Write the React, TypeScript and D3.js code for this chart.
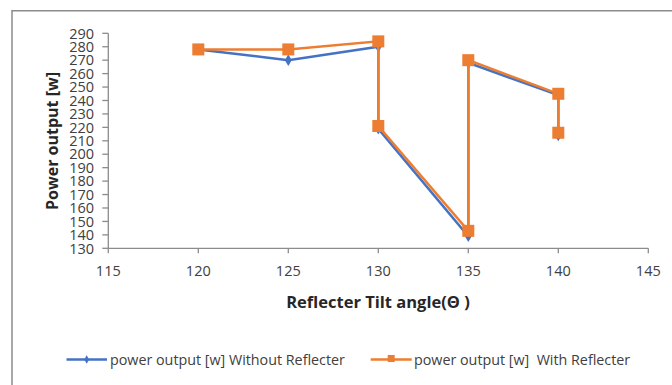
import React, { useEffect, useRef } from "react";
import * as d3 from "d3";

const angles = [120, 125, 130, 130, 135, 135, 140, 140];
const withoutReflecter = [278, 270, 280, 219, 139, 268, 244, 214];
const withReflecter = [278, 278, 284, 221, 143, 270, 245, 216];
const xTicks = [115, 120, 125, 130, 135, 140, 145];
const yTicks = d3.range(130, 291, 10);
const seriesNames = ["power output [w] Without Reflecter", "power output [w]  With Reflecter"];

const W = 672, H = 385;
const BLUE = "#4472C4", ORANGE = "#ED7D31", AXIS = "#8c8c8c", TEXT = "#404040";
const FONT = "'Open Sans', 'Noto Sans', sans-serif";

export default function App() {
  const ref = useRef<SVGSVGElement>(null);
  useEffect(() => {
    const svg = d3.select(ref.current);
    svg.selectAll("*").remove();
    const x = d3.scaleLinear().domain([115, 145]).range([108.3, 648.3]);
    const y = d3.scaleLinear().domain([130, 290]).range([248.3, 33.3]);

    svg.append("rect").attr("width", W).attr("height", H).attr("fill", "#fff");
    // chart border (top & left visible)
    svg.append("path").attr("d", `M12,${H + 5}V10.8H${W + 5}`).attr("fill", "none")
      .attr("stroke", AXIS).attr("stroke-width", 1.5);

    // y axis
    const ya = svg.append("g");
    ya.append("line").attr("x1", x(115)).attr("x2", x(115)).attr("y1", y(290)).attr("y2", y(130))
      .attr("stroke", AXIS).attr("stroke-width", 1.3);
    yTicks.forEach((t) => {
      ya.append("line").attr("x1", x(115) - 6).attr("x2", x(115)).attr("y1", y(t)).attr("y2", y(t))
        .attr("stroke", AXIS).attr("stroke-width", 1.3);
      ya.append("text").attr("x", 94).attr("y", y(t)).attr("dy", "0.36em").attr("text-anchor", "end")
        .attr("font-family", FONT).attr("font-size", 14.5).attr("fill", TEXT).text(String(t));
    });
    // x axis
    const xa = svg.append("g");
    xa.append("line").attr("x1", x(115)).attr("x2", x(145)).attr("y1", y(130)).attr("y2", y(130))
      .attr("stroke", AXIS).attr("stroke-width", 1.3);
    xTicks.forEach((t) => {
      xa.append("line").attr("x1", x(t)).attr("x2", x(t)).attr("y1", y(130)).attr("y2", y(130) + 5)
        .attr("stroke", AXIS).attr("stroke-width", 1.3);
      xa.append("text").attr("x", x(t)).attr("y", 275.7).attr("text-anchor", "middle")
        .attr("font-family", FONT).attr("font-size", 14.5).attr("fill", TEXT).text(String(t));
    });

    // axis titles
    svg.append("text").attr("x", 378).attr("y", 308).attr("text-anchor", "middle")
      .attr("font-family", FONT).attr("font-weight", "bold").attr("font-size", 16.5).attr("fill", "#262626")
      .text("Reflecter Tilt angle(Θ )");
    svg.append("text").attr("transform", "translate(58,141) rotate(-90)").attr("text-anchor", "middle")
      .attr("font-family", FONT).attr("font-weight", "bold").attr("font-size", 16).attr("fill", "#262626")
      .text("Power output [w]");

    const line = d3.line<[number, number]>().x((d) => x(d[0])).y((d) => y(d[1]));
    const blueData: [number, number][] = angles.map((a, i) => [a, withoutReflecter[i]]);
    const orangeData: [number, number][] = angles.map((a, i) => [a, withReflecter[i]]);

    const diamond = d3.symbol().type(d3.symbolDiamond).size(40);
    svg.append("path").attr("d", line(blueData)).attr("fill", "none").attr("stroke", BLUE).attr("stroke-width", 2.5);
    svg.selectAll(".bm").data(blueData).enter().append("path")
      .attr("d", diamond).attr("transform", (d) => `translate(${x(d[0])},${y(d[1])})`).attr("fill", BLUE);

    svg.append("path").attr("d", line(orangeData)).attr("fill", "none").attr("stroke", ORANGE).attr("stroke-width", 2.5);
    const s = 12;
    svg.selectAll(".om").data(orangeData).enter().append("rect")
      .attr("x", (d) => x(d[0]) - s / 2).attr("y", (d) => y(d[1]) - s / 2).attr("width", s).attr("height", s)
      .attr("fill", ORANGE);

    // legend
    const ly = 359.5;
    const lg = svg.append("g");
    lg.append("line").attr("x1", 66.5).attr("x2", 107).attr("y1", ly).attr("y2", ly).attr("stroke", BLUE).attr("stroke-width", 2.5);
    lg.append("path").attr("d", d3.symbol().type(d3.symbolDiamond).size(20)).attr("transform", `translate(86.7,${ly})`).attr("fill", BLUE);
    lg.append("text").attr("x", 110).attr("y", ly).attr("dy", "0.35em").attr("font-family", FONT).attr("font-size", 14.3)
      .attr("fill", TEXT).text(seriesNames[0]);
    lg.append("line").attr("x1", 370.7).attr("x2", 411.7).attr("y1", ly).attr("y2", ly).attr("stroke", ORANGE).attr("stroke-width", 2.5);
    lg.append("rect").attr("x", 391.2 - 3.5).attr("y", ly - 4.5).attr("width", 7).attr("height", 7).attr("fill", ORANGE);
    lg.append("text").attr("x", 414).attr("y", ly).attr("dy", "0.35em").attr("font-family", FONT).attr("font-size", 14.3)
      .attr("fill", TEXT).attr("xml:space", "preserve").style("white-space", "pre").text(seriesNames[1]);
  }, []);
  return (
    <svg ref={ref} width={W} height={H} style={{ position: "absolute", left: 0, top: 0, display: "block" }} />
  );
}
